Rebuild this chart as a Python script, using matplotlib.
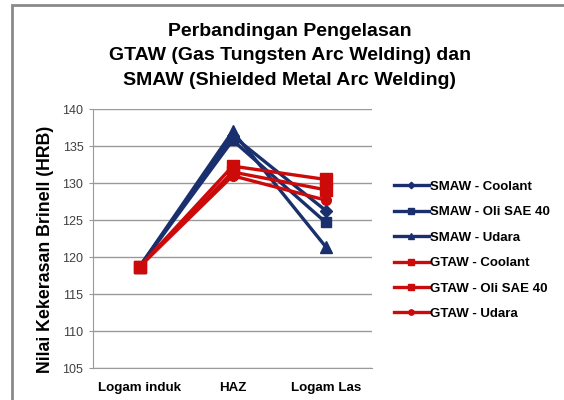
import matplotlib
matplotlib.use("Agg")
import matplotlib.pyplot as plt
from matplotlib.patches import Rectangle

plt.rcParams["font.family"] = ["Liberation Sans", "DejaVu Sans"]

# data
kategori = ["Logam induk", "HAZ", "Logam Las"]
smaw_coolant = [118.7, 136.4, 126.3]
smaw_oli = [118.7, 135.8, 124.7]
smaw_udara = [118.7, 137.0, 121.4]
gtaw_coolant = [118.7, 132.3, 130.5]
gtaw_oli = [118.7, 131.5, 129.1]
gtaw_udara = [118.7, 131.0, 127.7]

BIRU = "#1A2F6E"
MERAH = "#CC0A0A"

seri = [
    ("SMAW - Coolant", smaw_coolant, BIRU, "D", 6),
    ("SMAW - Oli SAE 40", smaw_oli, BIRU, "s", 7),
    ("SMAW - Udara", smaw_udara, BIRU, "^", 8),
    ("GTAW - Coolant", gtaw_coolant, MERAH, "s", 9),
    ("GTAW - Oli SAE 40", gtaw_oli, MERAH, "s", 8),
    ("GTAW - Udara", gtaw_udara, MERAH, "o", 7),
]

fig = plt.figure(figsize=(5.64, 4.0), dpi=100)
ax = fig.add_axes([0.165, 0.08, 0.495, 0.647])

x = range(len(kategori))
for nama, nilai, warna, mk, ms in seri:
    ax.plot(x, nilai, color=warna, linewidth=2.4, marker=mk, markersize=ms,
            label=nama, solid_joinstyle="miter")

ax.set_xlim(-0.5, 2.5)
ax.set_ylim(105, 140)
ax.set_yticks(range(105, 141, 5))
ax.set_xticks(list(x))
ax.set_xticklabels(kategori, fontweight="bold", fontsize=9.6)
ax.tick_params(axis="x", length=0, pad=10)
ax.tick_params(axis="y", length=3, color="#999999", labelsize=9,
               labelcolor="#404040", pad=4)
ax.grid(axis="y", color="#9a9a9a", linewidth=1)
ax.set_axisbelow(True)
for s in ["top", "right"]:
    ax.spines[s].set_visible(False)
for s in ["left", "bottom"]:
    ax.spines[s].set_color("#9a9a9a")

ax.set_ylabel("Nilai Kekerasan Brinell (HRB)", fontweight="bold",
              fontsize=12.8)
ax.yaxis.set_label_coords(-0.14, 0.46)

fig.text(0.514, 0.86,
         "Perbandingan Pengelasan\nGTAW (Gas Tungsten Arc Welding) dan\n"
         "SMAW (Shielded Metal Arc Welding)",
         ha="center", va="center", fontweight="bold", fontsize=14,
         linespacing=1.55)

leg = fig.legend(loc="center left", bbox_to_anchor=(0.677, 0.374),
                 frameon=False, prop={"weight": "bold", "size": 9.5},
                 handlelength=2.65, handletextpad=0.1, labelspacing=1.0,
                 markerscale=0.55)

# gray frame around the chart (cut off at right and bottom)
fig.patches.append(Rectangle((12 / 564, -0.05), 1.2, 1.0375,
                             transform=fig.transFigure, fill=False,
                             edgecolor="#8a8a8a", linewidth=2))

fig.savefig("out.png", dpi=100, facecolor="white")
